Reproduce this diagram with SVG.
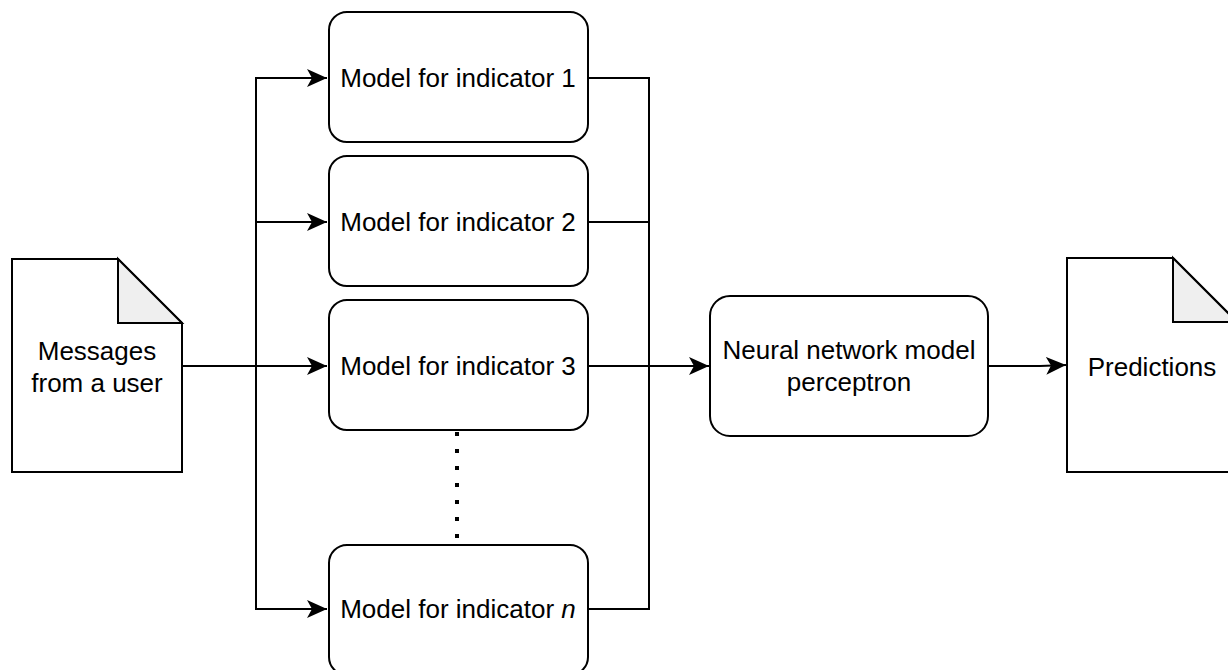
<svg xmlns="http://www.w3.org/2000/svg" width="1228" height="670" viewBox="0 0 1228 670">
<defs>
<style>
.box{fill:#fff;stroke:#000;stroke-width:2}
.fold{fill:#efefef;stroke:#000;stroke-width:2;stroke-linejoin:miter}
.t{font-family:"Liberation Sans",Arial,sans-serif;font-size:26px;fill:#000;text-anchor:middle}
.c{fill:none;stroke:#000;stroke-width:2}
.dot{fill:none;stroke:#000;stroke-width:4;stroke-dasharray:4 13}
</style>
<marker id="arr" markerUnits="userSpaceOnUse" markerWidth="22" markerHeight="22" viewBox="0 0 22 22" refX="20" refY="11" orient="auto">
<path d="M0,2 L20,11 L0,20 L5,11 Z" fill="#000"/>
</marker>
</defs>
<rect width="1228" height="670" fill="#fff"/>
<g id="connectors">
<path class="c" d="M182,366 L327,366" marker-end="url(#arr)"/>
<path class="c" d="M256,366 L256,78 L327,78" marker-end="url(#arr)"/>
<path class="c" d="M256,222 L327,222" marker-end="url(#arr)"/>
<path class="c" d="M256,366 L256,609 L327,609" marker-end="url(#arr)"/>
<path class="c" d="M588,78 L649,78 L649,609 L588,609"/>
<path class="c" d="M588,222 L649,222"/>
<path class="c" d="M588,366 L709,366" marker-end="url(#arr)"/>
<path class="c" d="M988,366 L1040,366 L1066,365" marker-end="url(#arr)"/>
<path class="dot" d="M457,432 L457,545"/>
</g>
<g id="doc-messages">
<path class="box" d="M12,259 L118,259 L182,323 L182,472 L12,472 Z"/>
<path class="fold" d="M118,259 L118,323 L182,323 Z"/>
<text class="t" x="97" y="360">Messages</text>
<text class="t" x="97" y="392">from a user</text>
</g>
<g id="model1">
<rect class="box" x="329" y="12" width="259" height="130" rx="18"/>
<text class="t" x="458" y="87">Model for indicator 1</text>
</g>
<g id="model2">
<rect class="box" x="329" y="156" width="259" height="130" rx="18"/>
<text class="t" x="458" y="231">Model for indicator 2</text>
</g>
<g id="model3">
<rect class="box" x="329" y="300" width="259" height="130" rx="18"/>
<text class="t" x="458" y="375">Model for indicator 3</text>
</g>
<g id="modeln">
<rect class="box" x="329" y="545" width="259" height="130" rx="18"/>
<text class="t" x="458" y="618">Model for indicator <tspan font-style="italic">n</tspan></text>
</g>
<g id="neural">
<rect class="box" x="710" y="296" width="278" height="140" rx="20"/>
<text class="t" x="849" y="359">Neural network model</text>
<text class="t" x="849" y="391">perceptron</text>
</g>
<g id="doc-predictions">
<path class="box" d="M1067,258 L1173,258 L1237,322 L1237,472 L1067,472 Z"/>
<path class="fold" d="M1173,258 L1173,322 L1237,322 Z"/>
<text class="t" x="1152" y="376">Predictions</text>
</g>
</svg>
